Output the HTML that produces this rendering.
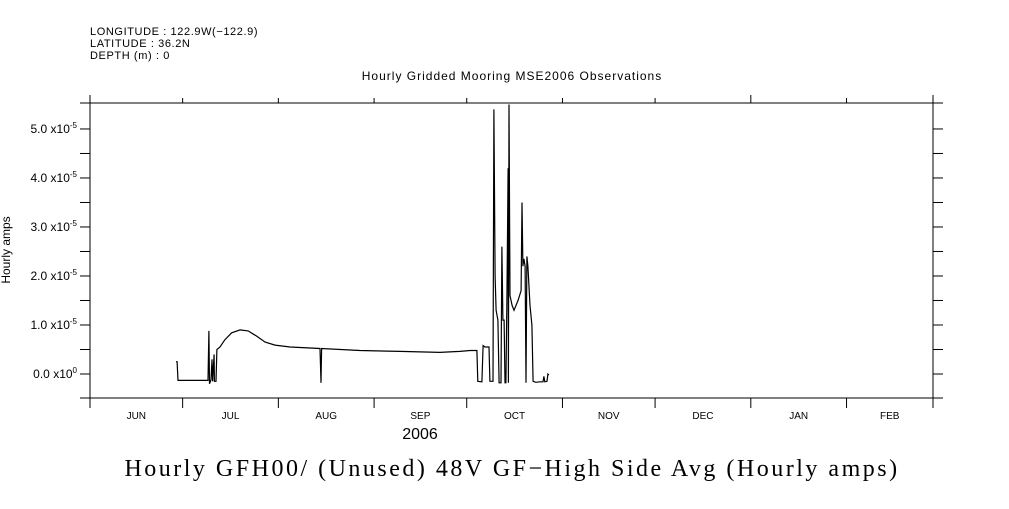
<!DOCTYPE html>
<html><head><meta charset="utf-8"><style>
body{margin:0;background:#fff;width:1009px;height:504px;overflow:hidden}
svg text{font-family:"Liberation Sans",sans-serif;fill:#000}
</style></head><body>
<svg id="chart" width="1009" height="504" xmlns="http://www.w3.org/2000/svg">
<g font-size="11" letter-spacing="0.6">
<text x="90" y="35">LONGITUDE : 122.9W(−122.9)</text>
<text x="90" y="47">LATITUDE : 36.2N</text>
<text x="90" y="59">DEPTH (m) : 0</text>
</g>
<text x="512" y="80" font-size="12" letter-spacing="1" text-anchor="middle">Hourly Gridded Mooring MSE2006 Observations</text>
<text transform="translate(10,250) rotate(-90)" font-size="12" text-anchor="middle">Hourly amps</text>
<text x="420" y="439" font-size="16" text-anchor="middle">2006</text>
<text x="512" y="476" font-size="24" letter-spacing="2.5" text-anchor="middle" style="font-family:'Liberation Serif',serif">Hourly GFH00/ (Unused) 48V GF−High Side Avg (Hourly amps)</text>
<g id="axes" stroke="#000" fill="none"></g>
<g id="ticks" font-size="12"></g>
<path id="series" stroke="#000" stroke-width="1.2" fill="none"/>
</svg>
<script>
const days=[27.85,28.2,28.5,38.2,38.5,38.7,39.2,39.5,39.7,40.2,40.3,40.8,41.1,42.1,43.7,45.9,48.6,51.2,53.8,56.7,59.9,64.8,74.5,74.8,75.0,87.4,100.4,113.3,119.8,123.1,125.3,125.6,126.9,127.3,127.9,129.2,129.5,130.5,130.8,131.2,131.5,131.8,132.1,132.5,133.1,133.4,133.7,134.1,134.4,134.7,135.0,135.4,135.5,135.7,136.0,136.7,137.3,138.6,139.6,139.9,140.2,140.5,140.9,141.2,141.5,141.8,142.5,143.1,143.5,144.4,145.7,146.7,147.0,147.3,148.0,148.3,148.6];
const values=[2.5,2.5,-1.3,-1.3,8.8,-2,-1.2,3,-1.5,4,-1.5,-1.5,5,5.5,7,8.4,9,8.8,7.8,6.5,5.9,5.5,5.2,-1.8,5.2,4.8,4.6,4.4,4.6,4.8,4.8,-1.5,-1.6,5.8,5.5,5.5,-1.5,-1.5,54,20,13,12,11,-1.8,-1.8,26,11,11,-1.8,-1.8,15,42,-1.8,55,16,14,13,15,17,35,22,23.5,22,-1.8,24,22,14,10,-1.5,-1.7,-1.6,-1.6,-0.5,-1.6,-1.5,0,-0.2];
const monthTicks=[0,30,61,92,122,153,183,214,245,273];
const monthLabels=["JUN","JUL","AUG","SEP","OCT","NOV","DEC","JAN","FEB"];
const yTicks=[0,10,20,30,40,50];
const yLabels=["0.0 x10","1.0 x10","2.0 x10","3.0 x10","4.0 x10","5.0 x10"];
const yExp=["0","-5","-5","-5","-5","-5"];
const L=90,R=933,T=103,B=398,D0=0,D1=273,V0=-4.9,V1=55.3;
const X=d=>L+(d-D0)/(D1-D0)*(R-L);
const Y=v=>B-(v-V0)/(V1-V0)*(B-T);
const NS="http://www.w3.org/2000/svg";
const ax=document.getElementById('axes'),tk=document.getElementById('ticks');
function line(x1,y1,x2,y2,name){const l=document.createElementNS(NS,'line');l.setAttribute('x1',x1);l.setAttribute('y1',y1);l.setAttribute('x2',x2);l.setAttribute('y2',y2);


ax.appendChild(l);}
line(80,T,943,T,'top-axis');line(80,B,943,B,'bottom-axis');line(L,95,L,408,'left-axis');line(R,95,R,408,'right-axis');
monthTicks.forEach((d,i)=>{const x=X(d);line(x,B,x,408,'x-tick');line(x,T,x,i==7?95:98,'x-tick-top');});
monthLabels.forEach((m,i)=>{const t=document.createElementNS(NS,'text');t.setAttribute('x',(X(monthTicks[i])+X(monthTicks[i+1]))/2);t.setAttribute('y',419);t.setAttribute('text-anchor','middle');t.setAttribute('font-size','10');t.textContent=m;


tk.appendChild(t);});
for(let v=-5;v<=50;v+=5){if(v<V0)continue;const y=Y(v);line(80,y,L,y,'y-tick');line(R,y,943,y,'y-tick-right');}
yTicks.forEach((v,i)=>{const t=document.createElementNS(NS,'text');t.setAttribute('x',77);t.setAttribute('y',Y(v)+4);t.setAttribute('text-anchor','end');
t.innerHTML=yLabels[i]+'<tspan dy="-5" font-size="8">'+yExp[i]+'</tspan>';


tk.appendChild(t);});
document.getElementById('series').setAttribute('d',days.map((d,i)=>(i?'L':'M')+X(d).toFixed(1)+','+Y(values[i]).toFixed(1)).join(''));
</script>
</body></html>
